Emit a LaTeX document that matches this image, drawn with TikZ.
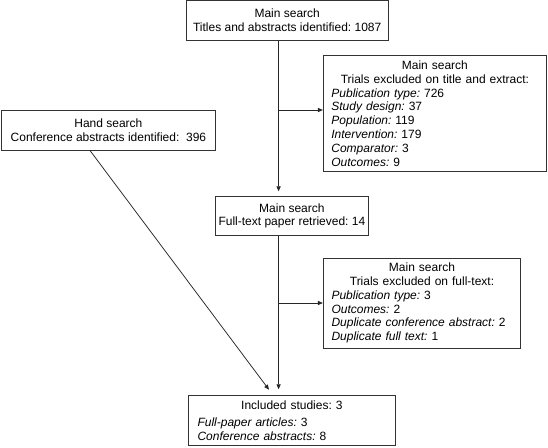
\documentclass[tikz,border=0pt]{standalone}
\usepackage{fontspec}
\setmainfont{Liberation Sans}
\usetikzlibrary{arrows.meta}
\setlength{\parindent}{0pt}
\frenchspacing
\begin{document}
\begin{tikzpicture}[x=1pt,y=-1pt,
  box/.style={draw=black!80, line width=0.9pt, rectangle, inner sep=0pt,
    font=\fontsize{12}{13.8}\selectfont\frenchspacing},
  conn/.style={draw=black!85, line width=0.75pt},
  arr/.style={conn, -{Triangle[length=5pt,width=4.2pt]}}]
\useasboundingbox (0,0) rectangle (548,447);

\node[box, minimum width=201.7pt, minimum height=39.3pt, align=center] (top) at (287.2,20.4)
  {Main search\\Titles and abstracts identified: 1087};

\node[box, minimum width=223.2pt, minimum height=116.4pt, text width=207pt] (ex1) at (434.9,113.5)
  {\centering Main search\\Trials excluded on title and extract:\par
   \raggedright
   \textit{Publication type:} 726\\
   \textit{Study design:} 37\\
   \textit{Population:} 119\\
   \textit{Intervention:} 179\\
   \textit{Comparator:} 3\\
   \textit{Outcomes:} 9\par};

\node[box, minimum width=214.7pt, minimum height=39.3pt, align=center] (hand) at (108.4,130.4)
  {Hand search\\Conference abstracts identified:\ \ 396};

\node[box, minimum width=152.3pt, minimum height=38.3pt, align=center] (ft) at (291.9,215.9)
  {Main search\\Full-text paper retrieved: 14};

\node[box, minimum width=197.5pt, minimum height=90pt, text width=181pt] (ex2) at (422,303)
  {\centering Main search\\Trials excluded on full-text:\par
   \raggedright
   \textit{Publication type:} 3\\
   \textit{Outcomes:} 2\\
   \textit{Duplicate conference abstract:} 2\\
   \textit{Duplicate full text:} 1\par};

\node[box, minimum width=206.3pt, minimum height=50pt, text width=188.7pt] (inc) at (291.9,420.7)
  {\centering Included studies: 3\par
   \vspace{2.5pt}
   \raggedright
   \textit{Full-paper articles:} 3\\
   \textit{Conference abstracts:} 8\par};

\coordinate (sp) at (278.6,0);
\coordinate (y1) at (0,110);
\coordinate (xh) at (90,0);
\coordinate (dt) at (269,389.7);

\draw[arr, shorten >=5pt] (top.south -| sp) -- (ft.north -| sp);
\draw[arr] (sp |- y1) -- (ex1.west |- y1);
\draw[arr, shorten >=6pt] (ft.south -| sp) -- (inc.north -| sp);
\draw[arr] (sp |- ex2.west) -- (ex2.west);
\draw[arr] (hand.south -| xh) -- (dt);
\end{tikzpicture}
\end{document}
